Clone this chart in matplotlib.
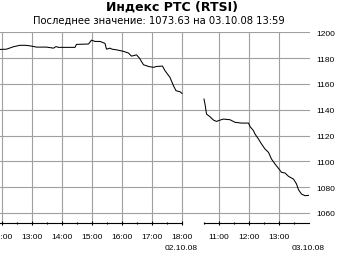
import matplotlib.pyplot as plt

# RTSI index, intraday, two trading sessions (02.10.08 and 03.10.08)
day1_time = ["11:56", "12:09", "12:23", "12:36", "12:46", "12:56", "13:09", "13:29",
             "13:43", "13:48", "13:53", "14:26", "14:29", "14:53", "14:59", "15:06",
             "15:16", "15:26", "15:29", "15:36", "15:40", "15:49", "16:03", "16:13",
             "16:19", "16:29", "16:35", "16:43", "16:53", "17:03", "17:09", "17:21",
             "17:26", "17:36", "17:43", "17:48", "17:56", "18:00"]
day1_value = [1186.8, 1187.0, 1188.9, 1190.0, 1190.0, 1189.6, 1188.6, 1188.6,
              1187.8, 1189.0, 1188.4, 1188.4, 1190.7, 1191.0, 1194.0, 1193.0,
              1193.0, 1191.5, 1187.0, 1187.8, 1187.0, 1186.5, 1185.3, 1184.0,
              1181.6, 1182.6, 1180.0, 1174.9, 1173.6, 1172.9, 1173.6, 1173.9,
              1170.3, 1165.1, 1158.6, 1154.8, 1154.0, 1152.7]

day2_time = ["10:30", "10:32", "10:35", "10:42", "10:49", "10:55", "11:02", "11:09",
             "11:22", "11:32", "11:45", "11:59", "12:02", "12:09", "12:12", "12:19",
             "12:25", "12:32", "12:39", "12:45", "12:52", "12:59", "13:05", "13:12",
             "13:19", "13:29", "13:35", "13:39", "13:45", "13:52", "13:59"]
day2_value = [1148.3, 1144.4, 1136.7, 1134.6, 1132.0, 1131.0, 1132.0, 1132.8,
              1132.3, 1130.3, 1129.7, 1129.7, 1127.0, 1123.8, 1121.2, 1117.3,
              1113.5, 1109.6, 1107.0, 1101.8, 1098.0, 1094.6, 1091.5, 1091.0,
              1088.4, 1086.3, 1082.5, 1078.0, 1074.7, 1073.4, 1073.63]

y_ticks = [1060, 1080, 1100, 1120, 1140, 1160, 1180, 1200]
day1_hours = ["12:00", "13:00", "14:00", "15:00", "16:00", "17:00", "18:00"]
day2_hours = ["11:00", "12:00", "13:00"]
day1_half = ["12:30", "13:30", "14:30", "15:30", "16:30", "17:30"]
day2_half = ["10:30", "11:30", "12:30", "13:30"]
day1_label, day2_label = "02.10.08", "03.10.08"
title = "Индекс РТС (RTSI)"
subtitle = "Последнее значение: 1073.63 на 03.10.08 13:59"

# compressed time axis: sessions placed one after another with a short gap
DAY1_ZERO = 12.0
DAY2_ZERO = 10.5
DAY2_SHIFT = 6.0 + 22 / 30


def hours(s):
    h, m = s.split(":")
    return int(h) + int(m) / 60


def pos1(s):
    return hours(s) - DAY1_ZERO


def pos2(s):
    return hours(s) - DAY2_ZERO + DAY2_SHIFT


grid_col = "#a0a0a0"

fig = plt.figure(figsize=(3.4, 2.55), dpi=100)
ax = fig.add_axes([0, 0.1204, 310 / 340, 0.869 - 0.1204])

x1 = [pos1(t) for t in day1_time]
x2 = [pos2(t) for t in day2_time]
ax.plot(x1, day1_value, color="black", lw=0.75, zorder=3)
ax.plot(x2, day2_value, color="black", lw=0.75, zorder=3)

ax.set_xlim(-2 / 30, 308 / 30)
ax.set_ylim(1052.0, 1200)

# grid
for v in y_ticks:
    ax.axhline(v, color=grid_col, lw=0.8, zorder=1)
for t in day1_hours:
    ax.axvline(pos1(t), color=grid_col, lw=0.8, zorder=1)
for t in day2_hours:
    ax.axvline(pos2(t), color=grid_col, lw=0.8, zorder=1)

for s in ax.spines.values():
    s.set_visible(False)

# broken time axis
ybot = ax.get_ylim()[0]
ax.plot([pos1("10:30"), pos1("18:00")], [ybot, ybot], color="black", lw=0.8,
        clip_on=False, zorder=4)
ax.plot([pos2("10:30"), pos2("14:00")], [ybot, ybot], color="black", lw=0.8,
        clip_on=False, zorder=4)

major = [pos1(t) for t in day1_hours] + [pos2(t) for t in day2_hours]
ax.set_xticks(major, day1_hours + day2_hours)
ax.set_xticks([pos1(t) for t in day1_half] + [pos2(t) for t in day2_half], minor=True)
ax.tick_params(axis="x", which="major", direction="inout", length=3.4, width=0.8,
               pad=5.5, labelsize=6, color="black")
ax.tick_params(axis="x", which="minor", direction="inout", length=2.0, width=0.8,
               color="black")
for lab in ax.get_xticklabels():
    lab.set_family("Liberation Sans")

ax.yaxis.tick_right()
ax.set_yticks(y_ticks)
ax.tick_params(axis="y", length=0, pad=4.3, labelsize=6)
for lab in ax.get_yticklabels():
    lab.set_family("Liberation Sans")

# session dates under the axis
for pos, lab in [(pos1("18:00"), day1_label), (pos2("14:00"), day2_label)]:
    ax.annotate(lab, xy=(pos, 0), xycoords=("data", "axes fraction"),
                xytext=(11.5, -15), textcoords="offset points", ha="right", va="top",
                fontsize=6, family="Liberation Sans")

fig.text(171.5 / 340, 1 - 7.5 / 255, title, ha="center", va="center",
         fontsize=9, fontweight="bold", family="DejaVu Sans")
fig.text(158.5 / 340, 1 - 20.5 / 255, subtitle, ha="center", va="center",
         fontsize=7.2, family="DejaVu Sans")

fig.savefig("out.png", dpi=100, facecolor="white")
